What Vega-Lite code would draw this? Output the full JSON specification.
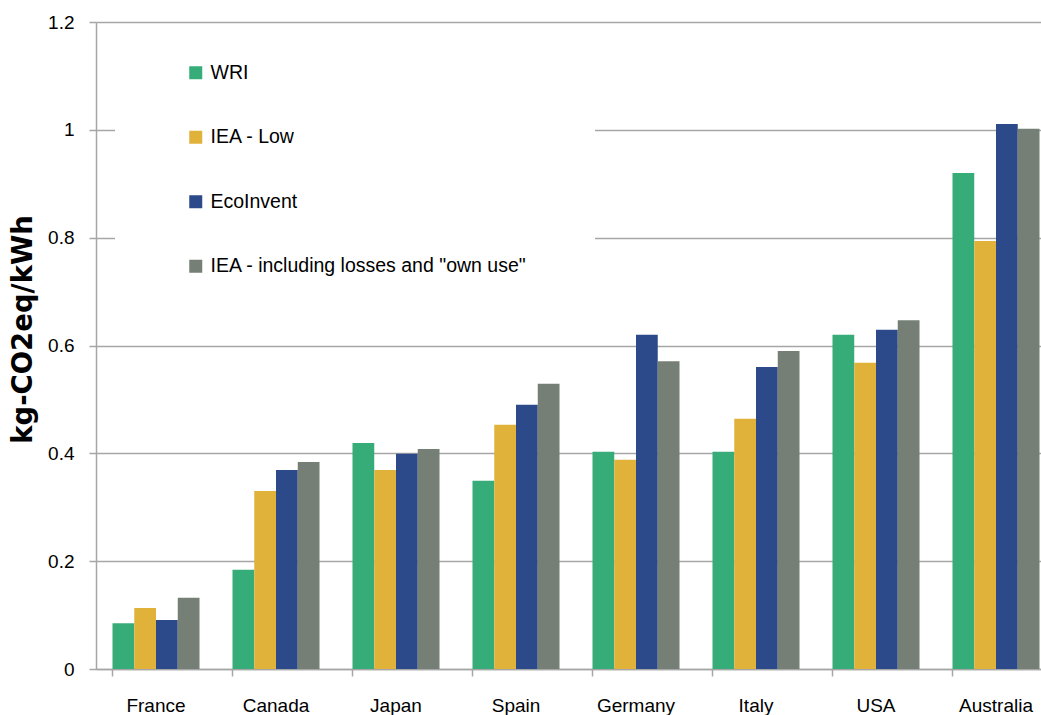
{
  "$schema": "https://vega.github.io/schema/vega-lite/v6.json",
  "autosize": "none",
  "width": 945,
  "height": 647,
  "padding": {"left": 96, "top": 22, "right": 0, "bottom": 46},
  "background": "white",
  "config": {"view": {"stroke": null}, "font": "Liberation Sans"},
  "data": {
    "values": [
      {"country": "France", "series": "WRI", "value": 0.085},
      {"country": "France", "series": "IEA - Low", "value": 0.113},
      {"country": "France", "series": "EcoInvent", "value": 0.091},
      {"country": "France", "series": "IEA - including losses and \"own use\"", "value": 0.132},
      {"country": "Canada", "series": "WRI", "value": 0.184},
      {"country": "Canada", "series": "IEA - Low", "value": 0.330},
      {"country": "Canada", "series": "EcoInvent", "value": 0.369},
      {"country": "Canada", "series": "IEA - including losses and \"own use\"", "value": 0.384},
      {"country": "Japan", "series": "WRI", "value": 0.419},
      {"country": "Japan", "series": "IEA - Low", "value": 0.369},
      {"country": "Japan", "series": "EcoInvent", "value": 0.399},
      {"country": "Japan", "series": "IEA - including losses and \"own use\"", "value": 0.408},
      {"country": "Spain", "series": "WRI", "value": 0.349},
      {"country": "Spain", "series": "IEA - Low", "value": 0.453},
      {"country": "Spain", "series": "EcoInvent", "value": 0.490},
      {"country": "Spain", "series": "IEA - including losses and \"own use\"", "value": 0.529},
      {"country": "Germany", "series": "WRI", "value": 0.403},
      {"country": "Germany", "series": "IEA - Low", "value": 0.388},
      {"country": "Germany", "series": "EcoInvent", "value": 0.620},
      {"country": "Germany", "series": "IEA - including losses and \"own use\"", "value": 0.571},
      {"country": "Italy", "series": "WRI", "value": 0.403},
      {"country": "Italy", "series": "IEA - Low", "value": 0.464},
      {"country": "Italy", "series": "EcoInvent", "value": 0.560},
      {"country": "Italy", "series": "IEA - including losses and \"own use\"", "value": 0.590},
      {"country": "USA", "series": "WRI", "value": 0.620},
      {"country": "USA", "series": "IEA - Low", "value": 0.568},
      {"country": "USA", "series": "EcoInvent", "value": 0.629},
      {"country": "USA", "series": "IEA - including losses and \"own use\"", "value": 0.647},
      {"country": "Australia", "series": "WRI", "value": 0.920},
      {"country": "Australia", "series": "IEA - Low", "value": 0.794},
      {"country": "Australia", "series": "EcoInvent", "value": 1.011},
      {"country": "Australia", "series": "IEA - including losses and \"own use\"", "value": 1.002}
    ]
  },
  "mark": {"type": "bar"},
  "encoding": {
    "x": {
      "field": "country",
      "type": "nominal",
      "sort": ["France", "Canada", "Japan", "Spain", "Germany", "Italy", "USA", "Australia"],
      "scale": {"range": [0, 960], "paddingInner": 0.275, "paddingOuter": 0.1375},
      "axis": {
        "title": null,
        "labelAngle": 0,
        "bandPosition": 0,
        "grid": false,
        "domainColor": "#A6A6A6",
        "domainWidth": 1.5,
        "tickColor": "#A6A6A6",
        "tickWidth": 1.5,
        "tickSize": 7,
        "labelPadding": 20,
        "labelFont": "Liberation Sans",
        "labelFontSize": 19,
        "labelColor": "#000000"
      }
    },
    "xOffset": {
      "field": "series",
      "type": "nominal",
      "sort": ["WRI", "IEA - Low", "EcoInvent", "IEA - including losses and \"own use\""]
    },
    "y": {
      "field": "value",
      "type": "quantitative",
      "scale": {"domain": [0, 1.2], "nice": false},
      "axis": {
        "values": [0, 0.2, 0.4, 0.6, 0.8, 1, 1.2],
        "format": "~g",
        "title": "kg-CO2eq/kWh",
        "titleFont": "DejaVu Sans",
        "titleFontWeight": "bold",
        "titleFontSize": 27.5,
        "titleColor": "#000000",
        "titlePadding": 10,
        "titleY": 307,
        "grid": true,
        "gridColor": "#A6A6A6",
        "gridWidth": 1.5,
        "domainColor": "#A6A6A6",
        "domainWidth": 1.5,
        "tickColor": "#A6A6A6",
        "tickWidth": 1.5,
        "tickSize": 7,
        "labelPadding": 15,
        "labelFont": "Liberation Sans",
        "labelFontSize": 19,
        "labelColor": "#000000"
      }
    },
    "color": {
      "field": "series",
      "type": "nominal",
      "scale": {
        "domain": ["WRI", "IEA - Low", "EcoInvent", "IEA - including losses and \"own use\""],
        "range": ["#36AC78", "#E0B23A", "#2C4A8A", "#767F75"]
      },
      "legend": {
        "orient": "none",
        "legendX": 19,
        "legendY": 3,
        "title": "\u2800\u2003\u2003\u2003\u2003\u2003\u2003\u2003\u2003\u2003\u2003\u2003\u2003\u2003\u2003\u2003\u2003\u2003\u2003\u2003\u2003\u2003\u2003\u2003\u2003\u2003\u2003\u2003\u2003\u2003\u2003\u2003\u2003\u2003\u2003\u2003\u2003\u2003\u2003\u2003\u2003\u2003\u2003\u2800",
        "titleFont": "DejaVu Sans",
        "titleFontSize": 10,
        "titleOpacity": 0,
        "titlePadding": 6,
        "titleLimit": 2000,
        "padding": 22,
        "fillColor": "white",
        "strokeColor": null,
        "symbolType": "square",
        "symbolSize": 169,
        "symbolStrokeWidth": 0,
        "symbolOpacity": 1,
        "symbolOffset": 49,
        "labelOffset": 5,
        "labelFont": "Liberation Sans",
        "labelFontSize": 19.5,
        "labelColor": "#000000",
        "labelLimit": 1000,
        "rowPadding": 43.5
      }
    }
  }
}
